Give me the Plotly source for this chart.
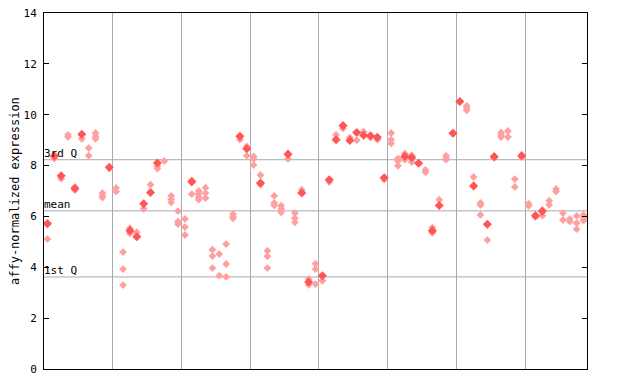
import plotly.graph_objects as go

# ---- data ----
samples = list(range(1, 80))

# highlighted (solid) value per sample, None where absent
solid_vals = [
    5.71, 8.38, 7.60, None, 7.10, 9.23, None, None, None, 7.93,
    None, None, 5.44, 5.20, 6.50, 6.94, 8.10, None, None, None,
    None, 7.36, None, None, None, None, None, None, 9.15, 8.66,
    None, 7.31, None, None, None, 8.45, None, 6.92, 3.42, None,
    3.67, 7.44, 9.02, 9.57, 8.99, 9.30, 9.19, 9.17, 9.11, 7.52,
    None, None, 8.36, 8.32, 8.09, None, 5.44, 6.43, None, 9.27,
    10.52, None, 7.20, None, 5.69, 8.35, None, None, None, 8.39,
    None, 6.03, 6.20, None, None, None, None, None, None,
]

# other replicate values per sample
replicate_vals = [
    [5.75, 5.11], [8.27], [7.48], [9.21, 9.12], [7.16, 7.04],
    [9.05], [8.69, 8.39], [9.28, 9.15, 9.05], [6.92, 6.82, 6.74], [7.90],
    [7.12, 6.98], [4.60, 3.93, 3.30], [5.54, 5.33], [5.38], [6.30],
    [7.25], [7.97, 7.88], [8.18], [6.81, 6.68, 6.55], [6.21, 5.80, 5.70],
    [5.90, 5.58, 5.27], [7.42, 6.88], [7.00, 6.88, 6.75, 6.66], [7.13, 6.92, 6.72], [4.69, 4.44, 3.97],
    [4.52, 3.67], [4.91, 4.13, 3.62], [6.10, 6.00, 5.92], [9.02], [8.75, 8.39],
    [8.36, 8.26, 8.02], [7.63, 7.25], [4.65, 4.43, 3.97], [6.81, 6.53, 6.43], [6.42, 6.30, 6.16],
    [8.26], [6.13, 5.93, 5.77], [7.05], [3.54, 3.31], [4.14, 3.93, 3.34],
    [3.47], [7.35], [9.21], [9.46], [9.10],
    [9.00], [9.33], [9.10], [9.02], [7.45],
    [9.28, 9.02, 8.87], [8.28, 8.18, 7.99], [8.47, 8.23], [8.41, 8.14], [],
    [7.83, 7.74], [5.56, 5.36], [6.66], [8.39, 8.30, 8.23], [],
    [], [10.35, 10.26, 10.17], [7.55], [6.53, 6.45, 6.06], [5.07],
    [8.30], [9.30, 9.20, 9.12], [9.36, 9.12], [7.47, 7.16], [8.33],
    [6.50, 6.42], [5.98], [6.26, 6.03], [6.62, 6.46], [7.08, 6.98],
    [6.13, 5.86], [5.90, 5.80], [6.02, 5.74, 5.50], [6.06, 5.96, 5.84],
]

quartile_names = ["3rd Q", "mean", "1st Q"]
quartile_vals = [8.23, 6.22, 3.62]

y_ticks = [0, 2, 4, 6, 8, 10, 12, 14]
group_size = 10

# ---- build ----
rx, ry = [], []
for s, reps in zip(samples, replicate_vals):
    for v in reps:
        rx.append(s)
        ry.append(v)
sx = [s for s, v in zip(samples, solid_vals) if v is not None]
sy = [v for v in solid_vals if v is not None]

RED = "#ff5555"
PINK = "#ffa0a0"
MONO = "DejaVu Sans Mono, Liberation Mono, monospace"

fig = go.Figure()
fig.add_trace(go.Scatter(x=rx, y=ry, mode="markers",
                         marker=dict(symbol="diamond", size=6, color=PINK,
                                     line=dict(width=0)),
                         hoverinfo="x+y", showlegend=False))
fig.add_trace(go.Scatter(x=sx, y=sy, mode="markers",
                         marker=dict(symbol="diamond", size=7, color=RED,
                                     line=dict(width=0)),
                         hoverinfo="x+y", showlegend=False))

n = len(samples)
for name, val in zip(quartile_names, quartile_vals):
    fig.add_shape(type="line", xref="paper", yref="y", x0=0, x1=1, y0=val, y1=val,
                  line=dict(color="#aaaaaa", width=1), layer="below")
    fig.add_annotation(xref="paper", yref="y", x=0, y=val, text=name,
                       showarrow=False, xanchor="left", yanchor="bottom",
                       xshift=-2, yshift=-2,
                       font=dict(family=MONO, size=11, color="black"))

# y-axis title as a rotated annotation left of the tick labels
fig.add_annotation(xref="paper", yref="paper", x=0, y=0.5, xshift=-29,
                   text="affy-normalized expression", textangle=-90,
                   showarrow=False, xanchor="center", yanchor="middle",
                   font=dict(family=MONO, size=12, color="black"))

grid_x = [g + 0.5 for g in range(group_size, n, group_size)]

fig.update_layout(
    width=632, height=376,
    margin=dict(l=36, r=53, t=5, b=15, autoexpand=False),
    paper_bgcolor="white", plot_bgcolor="white",
    font=dict(family=MONO, size=11, color="black"),
    xaxis=dict(range=[0.5, n + 0.5], tickvals=grid_x, showticklabels=False,
               ticks="", showgrid=True, gridcolor="#aaaaaa", gridwidth=1,
               showline=True, linecolor="black", linewidth=1, mirror=True,
               zeroline=False, automargin=False),
    yaxis=dict(range=[0, 14], tickvals=y_ticks, ticks="inside", ticklen=5,
               tickcolor="black", showgrid=False, zeroline=False,
               showline=True, linecolor="black", linewidth=1, mirror="ticks",
               automargin=False, ticklabelstandoff=4, ticklabeloverflow="allow",
               tickfont=dict(family=MONO, size=11)),
)

fig.write_html("out.html")
